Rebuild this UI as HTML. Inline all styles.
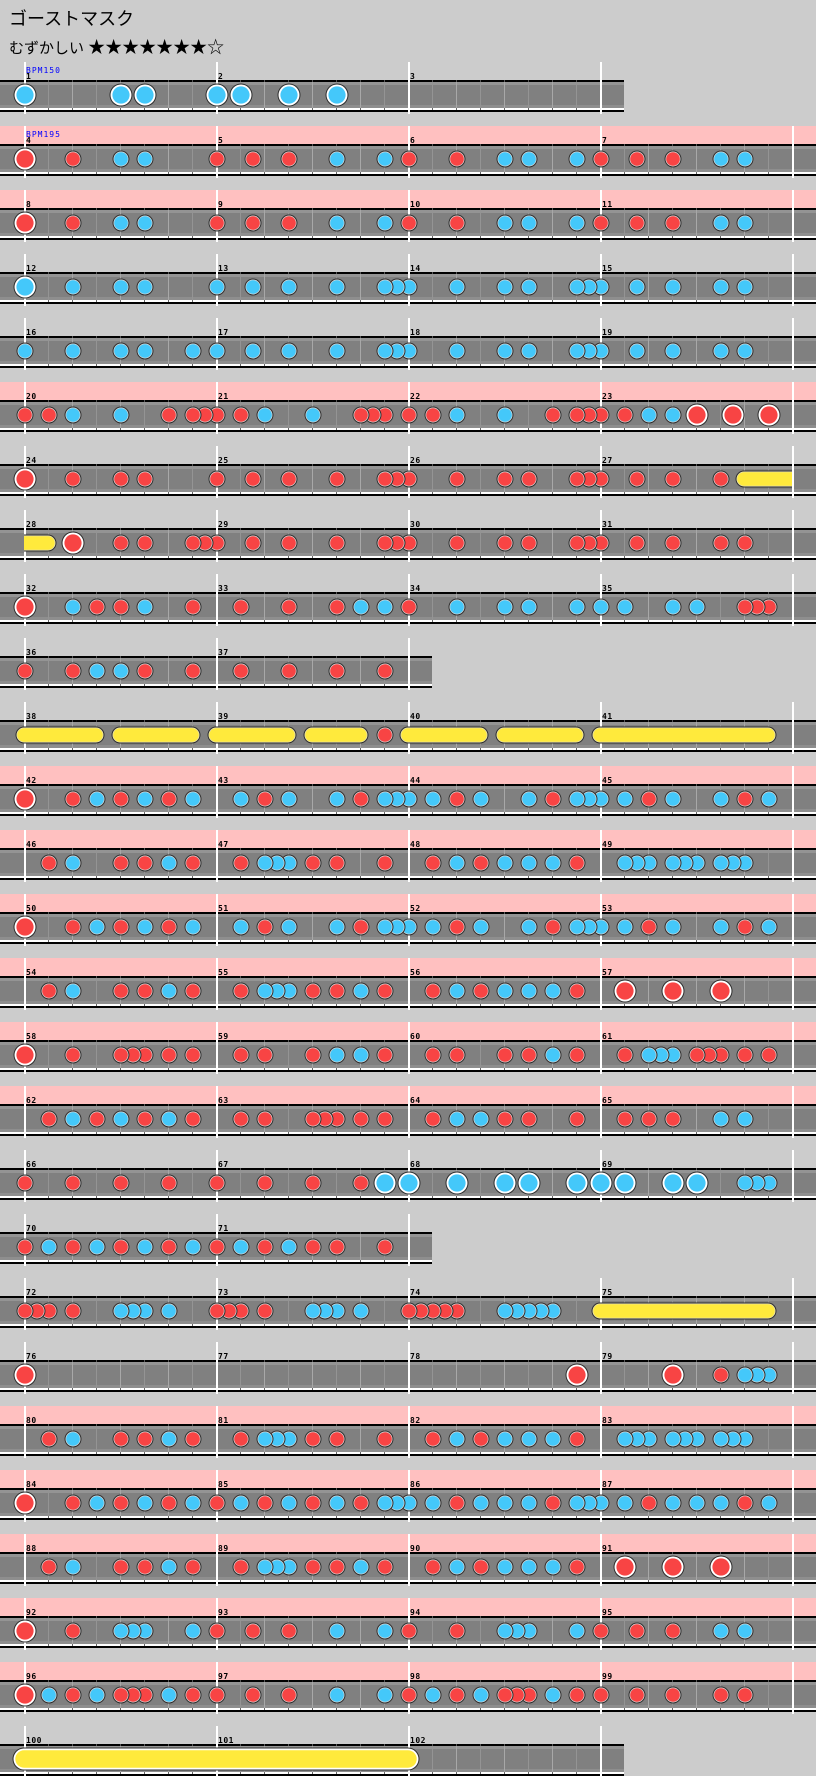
<!DOCTYPE html>
<html><head><meta charset="utf-8">
<style>
html,body{margin:0;padding:0;background:#cccccc;}
#w{position:relative;width:816px;height:1776px;overflow:hidden;background:#cccccc;}
svg{position:absolute;left:0;top:0;}
.t1{position:absolute;left:9px;top:10px;font:18px/18px "Liberation Sans","Noto Sans CJK JP",sans-serif;color:#000;white-space:nowrap;}
.t2{position:absolute;left:9px;top:39px;font:15px/17px "Liberation Sans","Noto Sans CJK JP",sans-serif;color:#000;white-space:nowrap;}
.t2 b{font-weight:normal;font-size:17px;letter-spacing:0px;}
.r{position:absolute;left:0;height:9px;width:816px;}
.r i{position:absolute;top:0;font:bold 8px/8px "DejaVu Sans Mono","Liberation Mono",monospace;font-style:normal;color:#000;letter-spacing:0.5px;}
.c0{left:26px}.c1{left:218px}.c2{left:410px}.c3{left:602px}
.bpm{position:absolute;left:26px;font:8px/8px "DejaVu Sans Mono","Liberation Mono",monospace;color:#0000ff;letter-spacing:1px;}
</style></head><body><div id="w">
<svg id="s" width="816" height="1776" xmlns="http://www.w3.org/2000/svg"></svg>
<div class="t1">ゴーストマスク</div>
<div class="t2">むずかしい <b>★★★★★★★☆</b></div>
<div class="bpm" style="top:67px">BPM150</div>
<div class="bpm" style="top:131px">BPM195</div>
<div class="r" style="top:73px"><i class="c0">1</i><i class="c1">2</i><i class="c2">3</i></div>
<div class="r" style="top:137px"><i class="c0">4</i><i class="c1">5</i><i class="c2">6</i><i class="c3">7</i></div>
<div class="r" style="top:201px"><i class="c0">8</i><i class="c1">9</i><i class="c2">10</i><i class="c3">11</i></div>
<div class="r" style="top:265px"><i class="c0">12</i><i class="c1">13</i><i class="c2">14</i><i class="c3">15</i></div>
<div class="r" style="top:329px"><i class="c0">16</i><i class="c1">17</i><i class="c2">18</i><i class="c3">19</i></div>
<div class="r" style="top:393px"><i class="c0">20</i><i class="c1">21</i><i class="c2">22</i><i class="c3">23</i></div>
<div class="r" style="top:457px"><i class="c0">24</i><i class="c1">25</i><i class="c2">26</i><i class="c3">27</i></div>
<div class="r" style="top:521px"><i class="c0">28</i><i class="c1">29</i><i class="c2">30</i><i class="c3">31</i></div>
<div class="r" style="top:585px"><i class="c0">32</i><i class="c1">33</i><i class="c2">34</i><i class="c3">35</i></div>
<div class="r" style="top:649px"><i class="c0">36</i><i class="c1">37</i></div>
<div class="r" style="top:713px"><i class="c0">38</i><i class="c1">39</i><i class="c2">40</i><i class="c3">41</i></div>
<div class="r" style="top:777px"><i class="c0">42</i><i class="c1">43</i><i class="c2">44</i><i class="c3">45</i></div>
<div class="r" style="top:841px"><i class="c0">46</i><i class="c1">47</i><i class="c2">48</i><i class="c3">49</i></div>
<div class="r" style="top:905px"><i class="c0">50</i><i class="c1">51</i><i class="c2">52</i><i class="c3">53</i></div>
<div class="r" style="top:969px"><i class="c0">54</i><i class="c1">55</i><i class="c2">56</i><i class="c3">57</i></div>
<div class="r" style="top:1033px"><i class="c0">58</i><i class="c1">59</i><i class="c2">60</i><i class="c3">61</i></div>
<div class="r" style="top:1097px"><i class="c0">62</i><i class="c1">63</i><i class="c2">64</i><i class="c3">65</i></div>
<div class="r" style="top:1161px"><i class="c0">66</i><i class="c1">67</i><i class="c2">68</i><i class="c3">69</i></div>
<div class="r" style="top:1225px"><i class="c0">70</i><i class="c1">71</i></div>
<div class="r" style="top:1289px"><i class="c0">72</i><i class="c1">73</i><i class="c2">74</i><i class="c3">75</i></div>
<div class="r" style="top:1353px"><i class="c0">76</i><i class="c1">77</i><i class="c2">78</i><i class="c3">79</i></div>
<div class="r" style="top:1417px"><i class="c0">80</i><i class="c1">81</i><i class="c2">82</i><i class="c3">83</i></div>
<div class="r" style="top:1481px"><i class="c0">84</i><i class="c1">85</i><i class="c2">86</i><i class="c3">87</i></div>
<div class="r" style="top:1545px"><i class="c0">88</i><i class="c1">89</i><i class="c2">90</i><i class="c3">91</i></div>
<div class="r" style="top:1609px"><i class="c0">92</i><i class="c1">93</i><i class="c2">94</i><i class="c3">95</i></div>
<div class="r" style="top:1673px"><i class="c0">96</i><i class="c1">97</i><i class="c2">98</i><i class="c3">99</i></div>
<div class="r" style="top:1737px"><i class="c0">100</i><i class="c1">101</i><i class="c2">102</i></div>
</div>
<script>
(function(){
var rows=[[1,3,0],[4,4,1],[8,4,1],[12,4,0],[16,4,0],[20,4,1],[24,4,0],[28,4,0],[32,4,0],[36,2,0],[38,4,0],[42,4,1],[46,4,1],[50,4,1],[54,4,1],[58,4,1],[62,4,1],[66,4,0],[70,2,0],[72,4,0],[76,4,0],[80,4,1],[84,4,1],[88,4,1],[92,4,1],[96,4,1],[100,3,0]];
var M={
1:"K.......K.K.....",2:"K.K...K...K.....",
4:"D...d...k.k.....",5:"d..d..d...k...k.",6:"d...d...k.k...k.",7:"d..d..d...k.k...",
12:"K...k...k.k.....",13:"k..k..k...k...kk",14:"k...k...k.k...kk",15:"k..k..k...k.k...",
16:"k...k...k.k...k.",
20:"d.d.k...k...d.dd",21:"d.d.k...k...ddd.",22:"d.d.k...k...d.dd",23:"d.d.k.k.D..D..D.",
24:"D...d...d.d.....",25:"d..d..d...d...dd",26:"d...d...d.d...dd",27:"d..d..d...d.....",
28:"....D...d.d...dd",31:"d..d..d...d.d...",
32:"D...k.d.d.k...d.",33:"..d...d...d.k.k.",34:"d...k...k.k...k.",35:"k.k...k.k...ddd.",
36:"d...d.k.k.d...d.",37:"..d...d...d...d.",39:"..............d.",
42:"D...d.k.d.k.d.k.",43:"..k.d.k...k.d.kk",44:"k.k.d.k...k.d.kk",45:"k.k.d.k...k.d.k.",
46:"..d.k...d.d.k.d.",47:"..d.kkk.d.d...d.",48:"..d.k.d.k.k.k.d.",49:"..kkk.kkk.kkk...",
55:"..d.kkk.d.d.k.d.",57:"..D...D...D.....",
58:"D...d...ddd.d.d.",59:"..d.d...d.k.k.d.",60:"..d.d...d.d.k.d.",61:"..d.kkk.ddd.d.d.",
62:"..d.k.d.k.d.k.d.",63:"..d.d...ddd.d.d.",64:"..d.k.k.d.d...d.",65:"..d.d.d...k.k...",
66:"d...d...d...d...",67:"d...d...d...d.K.",68:"K...K...K.K...K.",69:"K.K...K.K...kkk.",
70:"d.k.d.k.d.k.d.k.",71:"d.k.d.k.d.d...d.",
72:"ddd.d...kkk.k...",74:"ddddd...kkkkk...",
76:"D...............",78:"..............D.",79:"......D...d.kkk.",
84:"D...d.k.d.k.d.k.",85:"d.k.d.k.d.k.d.kk",86:"k.k.d.k.k.k.d.kk",87:"k.k.d.k.k.k.d.k.",
92:"D...d...kkk...k.",93:"d..d..d...k...k.",94:"d...d...kkk...k.",95:"d..d..d...k.k...",
96:"D.k.d.k.ddd.k.d.",97:"d..d..d...k...k.",98:"d.k.d.k.ddd.k.d.",99:"d..d..d...d.d..."
};
var al={8:4,9:5,10:6,11:7,17:13,18:14,19:15,29:25,30:26,50:42,51:43,52:44,53:45,54:46,56:48,73:72,80:46,81:47,82:48,83:49,88:46,89:55,90:48,91:57};
for(var k in al)M[k]=M[al[k]];
var RED="#f84444",BLUE="#44c8fa",YEL="#ffea3c";
var h='';
function roll(T,x1,x2,big,fl,fr){
 var rr=big?11.5:8.5,cy=T+33;
 var a=fl?x1-40:x1-rr,b=fr?x2+40:x2+rr;
 var ca=fl?x1:0,cb=fr?x2:816;
 var s='<svg x="'+ca+'" y="0" width="'+(cb-ca)+'" height="1776" overflow="hidden"><g transform="translate('+(-ca)+',0)">';
 s+='<rect x="'+a+'" y="'+(cy-rr)+'" width="'+(b-a)+'" height="'+(2*rr)+'" rx="'+rr+'" fill="#2e2e2e"/>';
 if(big){
  s+='<rect x="'+(a+1)+'" y="'+(cy-rr+1)+'" width="'+(b-a-2)+'" height="'+(2*rr-2)+'" rx="'+(rr-1)+'" fill="#ffffff"/>';
  s+='<rect x="'+(a+2.8)+'" y="'+(cy-rr+2.8)+'" width="'+(b-a-5.6)+'" height="'+(2*rr-5.6)+'" rx="'+(rr-2.8)+'" fill="'+YEL+'"/>';
 }else{
  s+='<rect x="'+(a+1)+'" y="'+(cy-rr+1)+'" width="'+(b-a-2)+'" height="'+(2*rr-2)+'" rx="'+(rr-1)+'" fill="#e8e2b0"/>';
  s+='<rect x="'+(a+1.8)+'" y="'+(cy-rr+1.8)+'" width="'+(b-a-3.6)+'" height="'+(2*rr-3.6)+'" rx="'+(rr-1.8)+'" fill="'+YEL+'"/>';
 }
 return s+'</g></svg>';
}
function note(x,cy,c){
 var big=(c=='D'||c=='K'),col=(c=='d'||c=='D')?RED:BLUE;
 if(big) return '<circle cx="'+x+'" cy="'+cy+'" r="11.5" fill="#2e2e2e"/><circle cx="'+x+'" cy="'+cy+'" r="10.5" fill="#fff"/><circle cx="'+x+'" cy="'+cy+'" r="8.6" fill="'+col+'"/>';
 return '<circle cx="'+x+'" cy="'+cy+'" r="8.5" fill="#2e2e2e"/><circle cx="'+x+'" cy="'+cy+'" r="7.5" fill="#d8d8d8"/><circle cx="'+x+'" cy="'+cy+'" r="6.8" fill="'+col+'"/>';
}
var Ts=[];
rows.forEach(function(rw,r){
 var m=rw[0],n=rw[1],p=rw[2],T=62+64*r,W=(n==4)?816:48+192*n;Ts.push(T);
 if(p)h+='<rect x="0" y="'+T+'" width="816" height="18" fill="#ffc0c0"/>';
 h+='<rect x="0" y="'+(T+18)+'" width="'+W+'" height="2" fill="#000"/>';
 h+='<rect x="0" y="'+(T+20)+'" width="'+W+'" height="26" fill="#808080"/>';
 h+='<rect x="0" y="'+(T+20)+'" width="'+W+'" height="3" fill="#949494"/>';
 h+='<rect x="0" y="'+(T+43)+'" width="'+W+'" height="3" fill="#8e8e8e"/>';
 h+='<rect x="0" y="'+(T+46)+'" width="'+W+'" height="2" fill="#fff"/>';
 h+='<rect x="0" y="'+(T+48)+'" width="'+W+'" height="2" fill="#000"/>';
 for(var x=24;x<W;x+=24){
  if((x-24)%192==0)continue;
  var q=((x-24)%48==0);
  h+='<rect x="'+x+'" y="'+(T+20)+'" width="1" height="26" fill="'+(q?'#a8a8a8':'#949494')+'"/>';
  h+='<rect x="'+x+'" y="'+(T+46)+'" width="1" height="2" fill="#666"/>';
  h+='<rect x="'+x+'" y="'+(T+18)+'" width="1" height="2" fill="#555"/>';
 }
 for(var i=0;i<=n;i++){
  var bx=24+192*i;
  h+='<rect x="'+bx+'" y="'+T+'" width="2" height="52" fill="#fff"/>';
 }
});
h+=roll(Ts[6],744,792,0,0,1);
h+=roll(Ts[7],24,48,0,1,0);
[[24,96],[120,192],[216,288],[312,360],[408,480],[504,576],[600,768]].forEach(function(a){h+=roll(Ts[10],a[0],a[1],0,0,0);});
h+=roll(Ts[19],600,768,0,0,0);
h+=roll(Ts[26],24,408,1,0,0);
for(var r=rows.length-1;r>=0;r--){
 var m=rows[r][0],n=rows[r][1],T=Ts[r];
 for(var i=n-1;i>=0;i--){
  var s=M[m+i];if(!s)continue;
  for(var j=15;j>=0;j--){
   var c=s.charAt(j);if(c=='.'||c=='')continue;
   h+=note(24+192*i+12*j+1,T+33,c);
  }
 }
}
document.getElementById('s').innerHTML=h;
})();
</script>
</body></html>
